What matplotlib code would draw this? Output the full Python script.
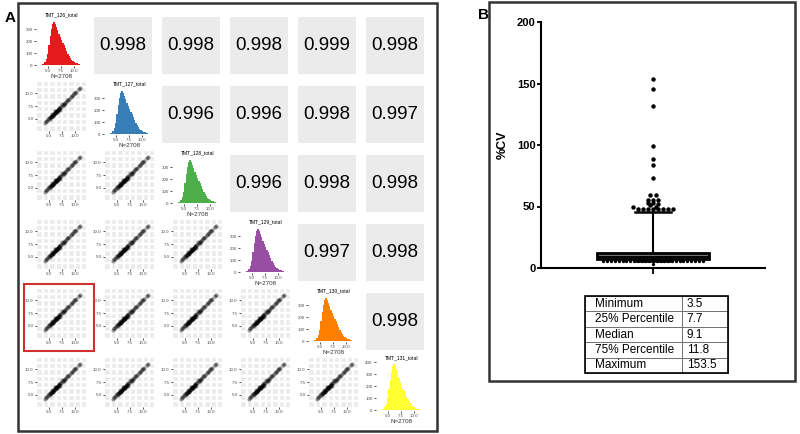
import numpy as np
import matplotlib.pyplot as plt
from matplotlib.patches import Rectangle
from matplotlib.ticker import MultipleLocator

plt.rcParams['font.family'] = ['Liberation Sans', 'DejaVu Sans']

# ---- data, panel A ----
channels = ["TMT_126_total", "TMT_127_total", "TMT_128_total",
            "TMT_129_total", "TMT_130_total", "TMT_131_total"]
hist_colors = ["#E41A1C", "#377EB8", "#4DAF4A", "#984EA3", "#FF7F00", "#FFFF33"]
n_obs = 2708
# upper triangle correlations, row by row
corr_rows = [[0.998, 0.998, 0.998, 0.999, 0.998],
             [0.996, 0.996, 0.998, 0.997],
             [0.996, 0.998, 0.998],
             [0.997, 0.998],
             [0.998]]
# histogram counts, bins of 0.25 from 3.5 to 12.0 (read approx.)
hist_counts = [2, 5, 12, 25, 50, 95, 165, 240, 300, 340, 355, 345, 320, 290,
               260, 230, 205, 185, 165, 140, 115, 95, 75, 58, 45, 35, 26, 19,
               13, 9, 6, 4, 2, 1]
hist_counts_131 = [2, 5, 12, 25, 50, 100, 175, 255, 320, 365, 385, 370, 340, 305,
                   270, 235, 205, 180, 158, 135, 110, 90, 70, 55, 42, 32, 24, 17,
                   12, 8, 5, 3, 2, 1]
bin_edges = np.arange(3.5, 12.01, 0.25)
# a few points along the log-intensity diagonal (read approx.)
sc_x = [4.2, 4.4, 4.6, 4.8, 5.0, 5.1, 5.3, 5.4, 5.5, 5.6, 5.7, 5.8, 5.9, 6.0,
        6.1, 6.2, 6.3, 6.4, 6.5, 6.6, 6.7, 6.8, 6.9, 7.0, 7.2, 7.4, 7.6, 7.8,
        8.0, 8.3, 8.6, 8.9, 9.2, 9.5, 9.9, 10.3, 10.8, 6.2, 7.1, 5.6, 6.6, 7.5,
        5.2, 5.8, 6.4, 7.0, 7.9, 8.5, 9.6, 10.1, 11.1]
sc_y = [4.1, 4.5, 4.5, 4.9, 5.1, 5.0, 5.4, 5.3, 5.6, 5.5, 5.8, 5.7, 6.0, 5.9,
        6.2, 6.1, 6.4, 6.3, 6.6, 6.5, 6.8, 6.7, 7.0, 6.9, 7.3, 7.3, 7.7, 7.7,
        8.1, 8.2, 8.7, 8.8, 9.3, 9.4, 10.0, 10.2, 10.9, 6.5, 6.8, 5.9, 6.3, 7.8,
        5.4, 5.6, 6.6, 7.2, 7.8, 8.6, 9.7, 10.0, 11.1]

# ---- data, panel B ----
cv_q1, cv_med, cv_q3 = 7.7, 9.1, 11.8
cv_whisker_hi = 45.5
cv_whisker_lo = 5.6
cv_high = [153.5, 145.5, 132, 99, 89, 84, 73, 59, 59, 55, 55, 55, 53, 52.5,
           52, 51, 50, 49.5, 48, 48, 48, 48, 48, 48, 48, 48]
cv_low = [5.6] * 27 + [3.5]
table_labels = ["Minimum", "25% Percentile", "Median", "75% Percentile", "Maximum"]
table_values = ["3.5", "7.7", "9.1", "11.8", "153.5"]

W, H = 800, 434
fig = plt.figure(figsize=(8, 4.34), dpi=100)


def px_axes(x, y, w, h):
    return fig.add_axes([x / W, 1 - (y + h) / H, w / W, h / H])


def swarm(vals, step, bin_h):
    # simple beeswarm: values in the same band sit side by side
    groups = {}
    for v in vals:
        groups.setdefault(int(v // bin_h), []).append(v)
    xs, ys = [], []
    for k in groups:
        g = groups[k]
        n = len(g)
        for i, v in enumerate(g):
            xs.append((i - (n - 1) / 2) * step)
            ys.append(v)
    return xs, ys


tick_kw = dict(labelsize=3.2, length=1.5, width=0.6, color="#333333",
               labelcolor="#4D4D4D", pad=1)

for r in range(6):
    for c in range(6):
        x0 = 26 + 68 * c
        y0 = 17 + 69 * r
        if c > r:
            ax = px_axes(x0, y0, 58, 57)
            ax.set_facecolor("#EBEBEB")
            ax.set_xticks([])
            ax.set_yticks([])
            for s in ax.spines.values():
                s.set_visible(False)
            ax.text(0.5, 0.5, "%.3f" % corr_rows[r][c - r - 1], fontsize=13.5,
                    ha="center", va="center", transform=ax.transAxes)
        elif c == r:
            counts = hist_counts_131 if r == 5 else hist_counts
            top = 410 if r == 5 else 392
            ax = px_axes(x0 + 10, y0 + 1 if r < 5 else y0 - 1, 51,
                         48 if r < 5 else 50)
            ax.stairs(counts, bin_edges, fill=True, color=hist_colors[r])
            ax.set_xlim(2.6, 12.6)
            ax.set_ylim(-8, top)
            ax.set_xticks([5, 7.5, 10])
            ax.set_xticklabels(["5.0", "7.5", "10.0"])
            ax.set_yticks([0, 100, 200, 300, 400] if r == 5 else [0, 100, 200, 300])
            ax.tick_params(**tick_kw)
            for s in ax.spines.values():
                s.set_visible(False)
            ax.set_title(channels[r], fontsize=3.6, pad=1.5)
            ax.set_xlabel("N=%d" % n_obs, fontsize=4.5, labelpad=0.5,
                          color="#333333")
        else:
            ax = px_axes(x0 + 11, y0 - 6, 51, 51)
            ax.set_facecolor("#EBEBEB")
            ax.scatter(sc_x, sc_y, s=9, c="black", alpha=0.4, linewidths=0)
            ax.set_xlim(2.6, 12.6)
            ax.set_ylim(2.6, 12.6)
            ax.set_xticks([5, 7.5, 10])
            ax.set_xticklabels(["5.0", "7.5", "10.0"])
            ax.set_yticks([5, 7.5, 10])
            ax.set_yticklabels(["5.0", "7.5", "10.0"])
            ax.xaxis.set_minor_locator(MultipleLocator(1.25))
            ax.yaxis.set_minor_locator(MultipleLocator(1.25))
            ax.grid(which="both", color="white", linewidth=1.7)
            ax.set_axisbelow(True)
            ax.tick_params(which="minor", length=0)
            ax.tick_params(**tick_kw)
            for s in ax.spines.values():
                s.set_visible(False)

# ---- panel B ----
axb = px_axes(541, 22, 224, 246)
stats = [dict(med=cv_med, q1=cv_q1, q3=cv_q3, whislo=cv_whisker_lo,
              whishi=cv_whisker_hi, fliers=[])]
axb.bxp(stats, positions=[0], widths=1.0, capwidths=0.33, patch_artist=True,
        boxprops=dict(facecolor="#777777", edgecolor="black", linewidth=2),
        medianprops=dict(color="black", linewidth=1.5),
        whiskerprops=dict(color="black", linewidth=1.5),
        capprops=dict(color="black", linewidth=1.8))
hx, hy = swarm(cv_high, 0.045, 2.0)
axb.plot(hx, hy, "o", color="black", markersize=3.2, markeredgewidth=0)
lx, ly = swarm(cv_low, 0.034, 2.0)
axb.plot(lx, ly, "o", color="black", markersize=2.4, markeredgewidth=0)
axb.set_xlim(-1, 1)
axb.set_ylim(0, 200)
axb.set_yticks([0, 50, 100, 150, 200])
axb.set_xticks([0])
axb.set_xticklabels([])
axb.spines["top"].set_visible(False)
axb.spines["right"].set_visible(False)
axb.spines["left"].set_linewidth(1.5)
axb.spines["bottom"].set_linewidth(1.5)
axb.tick_params(axis="y", labelsize=8, width=1.3, length=3, pad=1)
axb.tick_params(axis="x", width=1.3, length=4)
for lab in axb.get_yticklabels():
    lab.set_fontweight("bold")
axb.set_ylabel("%CV", fontsize=9, fontweight="bold", labelpad=6)

axt = px_axes(585, 296, 143, 77)
axt.axis("off")
tab = axt.table(cellText=[[a, b] for a, b in zip(table_labels, table_values)],
                colWidths=[97 / 143, 46 / 143], cellLoc="left", bbox=[0, 0, 1, 1])
tab.auto_set_font_size(False)
tab.set_fontsize(8.5)
for cell in tab.get_celld().values():
    cell.set_edgecolor("#666666")
    cell.set_linewidth(0.6)
axt.add_patch(Rectangle((0, 0), 1, 1, transform=axt.transAxes, fill=False,
                        edgecolor="black", linewidth=1.2, clip_on=False))

# ---- frames and panel letters ----
ov = px_axes(0, 0, 800, 434)
ov.set_xlim(0, 800)
ov.set_ylim(434, 0)
ov.axis("off")
ov.patch.set_alpha(0)
ov.add_patch(Rectangle((18, 3), 419, 428, fill=False, edgecolor="#333333", linewidth=1.8))
ov.add_patch(Rectangle((489, 2), 306, 379, fill=False, edgecolor="#333333", linewidth=1.8))
ov.add_patch(Rectangle((24, 284), 70, 67, fill=False, edgecolor="#D03030", linewidth=1.5))
fig.text(5 / W, 1 - 18 / H, "A", fontsize=11, fontweight="bold", va="center")
fig.text(478 / W, 1 - 15 / H, "B", fontsize=11, fontweight="bold", va="center")

fig.savefig("out.png", dpi=100)
